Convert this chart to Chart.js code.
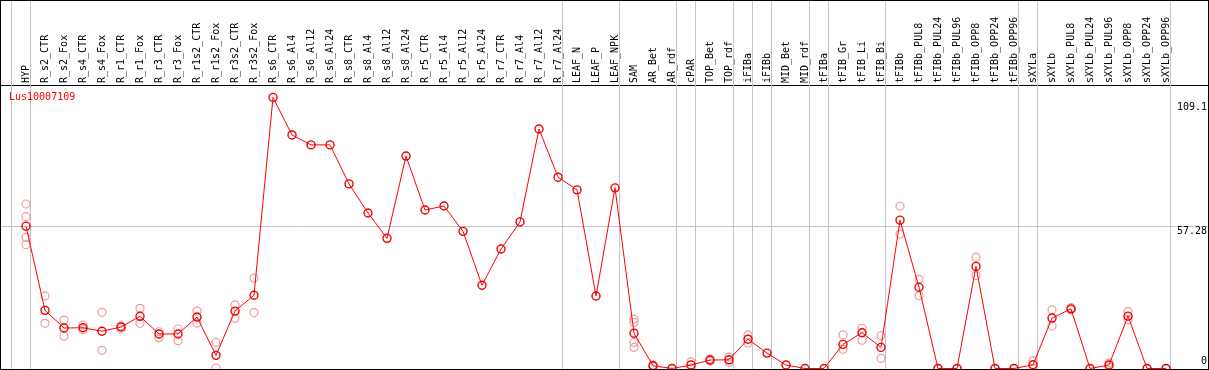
<!DOCTYPE html>
<html>
<head>
<meta charset="utf-8">
<script src="https://cdn.jsdelivr.net/npm/chart.js@4/dist/chart.umd.min.js"></script>
<style>
  html, body { margin: 0; padding: 0; background: #fff; }
  #wrap { width: 1209px; height: 370px; }
</style>
</head>
<body>
<div id="wrap"><canvas id="geneChart" width="1209" height="370"></canvas></div>
<script>
const geneName = 'Lus10007109';

const categories = [
  'HYP', 'R_s2_CTR', 'R_s2_Fox', 'R_s4_CTR', 'R_s4_Fox', 'R_r1_CTR', 'R_r1_Fox',
  'R_r3_CTR', 'R_r3_Fox', 'R_r1s2_CTR', 'R_r1s2_Fox', 'R_r3s2_CTR', 'R_r3s2_Fox',
  'R_s6_CTR', 'R_s6_Al4', 'R_s6_Al12', 'R_s6_Al24', 'R_s8_CTR', 'R_s8_Al4',
  'R_s8_Al12', 'R_s8_Al24', 'R_r5_CTR', 'R_r5_Al4', 'R_r5_Al12', 'R_r5_Al24',
  'R_r7_CTR', 'R_r7_Al4', 'R_r7_Al12', 'R_r7_Al24', 'LEAF_N', 'LEAF_P', 'LEAF_NPK',
  'SAM', 'AR_Bet', 'AR_rdf', 'cPAR', 'TOP_Bet', 'TOP_rdf', 'iFIBa', 'iFIBb',
  'MID_Bet', 'MID_rdf', 'tFIBa', 'tFIB_Gr', 'tFIB_Li', 'tFIB_Bi', 'tFIBb',
  'tFIBb_PUL8', 'tFIBb_PUL24', 'tFIBb_PUL96', 'tFIBb_OPP8', 'tFIBb_OPP24', 'tFIBb_OPP96',
  'sXYLa', 'sXYLb', 'sXYLb_PUL8', 'sXYLb_PUL24', 'sXYLb_PUL96', 'sXYLb_OPP8',
  'sXYLb_OPP24', 'sXYLb_OPP96'
];

// mean expression per sample
const means = [
  57.3, 23.4, 16.3, 16.4, 15.0, 16.7, 21.0, 13.9, 13.9, 20.7, 5.3, 23.1, 29.5,
  109.1, 94.0, 90.0, 90.0, 74.3, 62.6, 52.4, 85.5, 63.8, 65.4, 55.2, 33.5,
  48.1, 59.0, 96.4, 77.0, 71.9, 29.2, 72.7,
  14.2, 1.1, 0, 1.4, 3.4, 3.5, 11.8, 6.2, 1.4, 0, 0, 9.7, 14.4, 8.5, 59.7,
  32.7, 0, 0, 41.1, 0, 0,
  1.5, 20.3, 24.0, 0, 1.4, 21.1, 0, 0
];

// replicates (null = none shown)
const rep1 = [
  66.2, 29.2, 19.5, 17.5, 22.6, 17.2, 24.2, 14.8, 15.9, 23.1, 10.5, 25.6, 36.4,
  null, null, null, null, null, null, null, null, null, null, null, null,
  null, null, null, null, null, null, null,
  19.9, 1.5, 0, 2.7, 3.8, 4.6, 13.5, null, null, null, null, 13.5, 16.2, 13.2, 65.3,
  35.9, 0, 0, 44.8, 0, 0,
  3.1, 23.6, 24.5, 0, 2.2, 22.9, 0, 0
];
const rep2 = [
  61.1, 18.2, 13.0, 15.6, 7.3, 15.9, 18.2, 12.4, 11.2, 18.3, 0.1, 20.2, 22.5,
  null, null, null, null, null, null, null, null, null, null, null, null,
  null, null, null, null, null, null, null,
  18.6, 0.7, 0, 0.2, 3.0, 2.5, 10.3, null, null, null, null, 7.7, 11.4, 4.1, 54.1,
  29.3, 0, 0, 37.4, 0, 0,
  0, 17.1, 23.6, 0, 0.6, 19.6, 0, 0
];
const rep3 = [52.8, null, null, null, null, null, null, null, null, null, null, null, null,
  null, null, null, null, null, null, null, null, null, null, null, null,
  null, null, null, null, null, null, null, 10.5];
const rep4 = [49.8, null, null, null, null, null, null, null, null, null, null, null, null,
  null, null, null, null, null, null, null, null, null, null, null, null,
  null, null, null, null, null, null, null, 8.5];

// last sample index of each group (gray separators)
const groupEnds = [-1, 0, 28, 31, 34, 35, 37, 38, 39, 41, 42, 45, 52, 53, 60];

const tickValues = [0, 57.28, 109.1];
const tickLabels = ['0', '57.28', '109.1'];

const monoFont = '10px "DejaVu Sans Mono", monospace';

function toPoints(arr) {
  return arr.map((v, i) => (v === null || v === undefined) ? null : { x: i, y: v })
    .filter(p => p !== null);
}

const repStyle = {
  type: 'scatter',
  showLine: false,
  pointRadius: 4,
  pointHoverRadius: 4,
  pointBorderWidth: 1.2,
  pointBorderColor: '#f09a9a',
  pointBackgroundColor: 'rgba(0,0,0,0)'
};

const framePlugin = {
  id: 'frame',
  beforeDatasetsDraw(chart) {
    const ctx = chart.ctx;
    const x = chart.scales.x;
    ctx.save();
    ctx.strokeStyle = '#c4c4c4';
    ctx.lineWidth = 1;
    groupEnds.forEach(g => {
      const px = Math.round(x.getPixelForValue(g + 0.22)) + 0.5;
      ctx.beginPath();
      ctx.moveTo(px, 0);
      ctx.lineTo(px, chart.height);
      ctx.stroke();
    });
    ctx.restore();
  },
  afterDraw(chart) {
    const ctx = chart.ctx;
    const y = chart.scales.y;
    const area = chart.chartArea;
    ctx.save();
    ctx.font = monoFont;
    ctx.fillStyle = '#000';
    ctx.textAlign = 'right';
    ctx.textBaseline = 'middle';
    const shift = [-7, 5, 10];
    tickValues.forEach((v, i) => {
      ctx.fillText(tickLabels[i], chart.width - 2, y.getPixelForValue(v) + shift[i]);
    });
    ctx.fillStyle = '#ff0000';
    ctx.textAlign = 'left';
    ctx.fillText(geneName, area.left + 8, area.top + 12);
    ctx.strokeStyle = '#000';
    ctx.lineWidth = 1;
    ctx.strokeRect(0.5, 0.5, chart.width - 1, chart.height - 1);
    ctx.restore();
  }
};

const ctx = document.getElementById('geneChart').getContext('2d');
new Chart(ctx, {
  type: 'line',
  data: {
    datasets: [
      {
        label: 'mean',
        data: toPoints(means),
        borderColor: '#ff0000',
        borderWidth: 1,
        pointRadius: 4,
        pointHoverRadius: 4,
        pointBorderWidth: 1.4,
        pointBorderColor: '#ee0000',
        pointBackgroundColor: 'rgba(0,0,0,0)',
        tension: 0
      },
      Object.assign({ label: 'rep1', data: toPoints(rep1) }, repStyle),
      Object.assign({ label: 'rep2', data: toPoints(rep2) }, repStyle),
      Object.assign({ label: 'rep3', data: toPoints(rep3) }, repStyle),
      Object.assign({ label: 'rep4', data: toPoints(rep4) }, repStyle)
    ]
  },
  options: {
    responsive: false,
    animation: false,
    layout: { autoPadding: false, padding: { left: 1, right: 1, top: 0, bottom: 1 } },
    plugins: {
      legend: { display: false },
      tooltip: { enabled: false }
    },
    scales: {
      x: {
        type: 'linear',
        position: 'top',
        min: -1.316,
        max: 62.21,
        afterBuildTicks: scale => {
          scale.ticks = categories.map((c, i) => ({ value: i }));
        },
        afterFit: scale => {
          scale.height = 85;
          scale.paddingLeft = 0;
          scale.paddingRight = 0;
        },
        ticks: {
          autoSkip: false,
          minRotation: 90,
          maxRotation: 90,
          padding: 2,
          labelOffset: 12,
          color: '#000',
          font: { family: '"DejaVu Sans Mono", monospace', size: 10 },
          callback: value => categories[value]
        },
        grid: { display: false, drawTicks: false },
        border: { display: true, color: '#000', width: 1 }
      },
      y: {
        type: 'linear',
        position: 'right',
        min: -0.2,
        max: 114.1,
        afterBuildTicks: scale => {
          scale.ticks = tickValues.map(v => ({ value: v }));
        },
        afterFit: scale => {
          scale.width = 0;
          scale.paddingTop = 0;
          scale.paddingBottom = 0;
        },
        ticks: { display: false },
        grid: {
          drawTicks: false,
          color: c => (c.tick && c.tick.value === 57.28) ? '#c4c4c4' : 'rgba(0,0,0,0)'
        },
        border: { display: false }
      }
    }
  },
  plugins: [framePlugin]
});
</script>
</body>
</html>
